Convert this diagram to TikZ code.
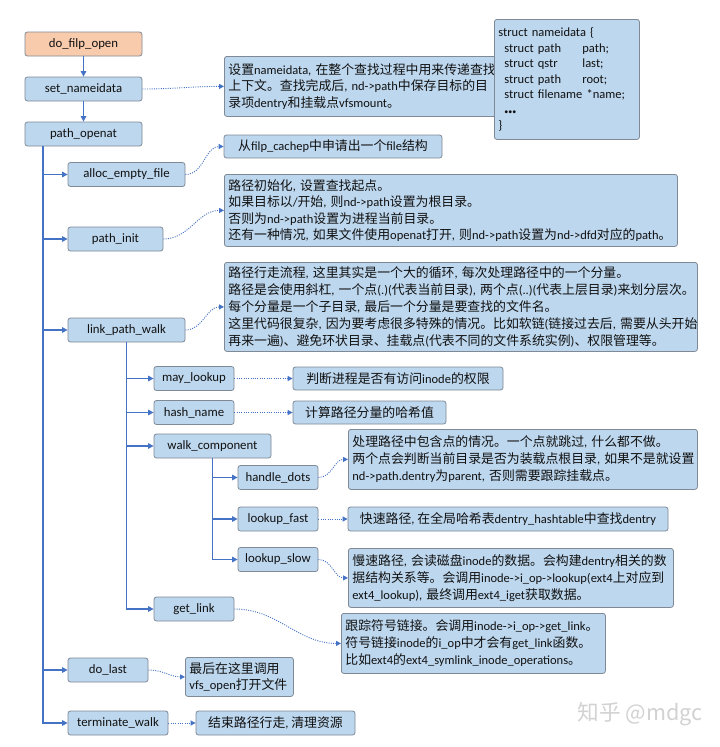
\documentclass[tikz,border=0pt]{standalone}
\usepackage{fontspec}
\setmainfont{Carlito}
\newfontfamily\cjkfont[Scale=1.03]{Noto Sans CJK SC}
\usetikzlibrary{arrows.meta}
\XeTeXinterchartokenstate=1
\newXeTeXintercharclass\CJKcls
\newcount\cjkcnt
\def\setclassrange#1#2#3{\cjkcnt=#1\relax\loop\XeTeXcharclass\cjkcnt=#3\relax\ifnum\cjkcnt<#2\relax\advance\cjkcnt by 1\repeat}
\setclassrange{0}{"2FFF}{0}
\setclassrange{"3000}{"303F}{\CJKcls}
\setclassrange{"4E00}{"9FFF}{\CJKcls}
\setclassrange{"FF00}{"FFEF}{\CJKcls}
\XeTeXinterchartoks 0 \CJKcls = {\begingroup\cjkfont}
\XeTeXinterchartoks 4095 \CJKcls = {\begingroup\cjkfont}
\XeTeXinterchartoks \CJKcls 0 = {\endgroup}
\XeTeXinterchartoks \CJKcls 4095 = {\endgroup}
\definecolor{boxblue}{HTML}{BDD7EE}
\definecolor{orangefill}{HTML}{F8CBAD}
\definecolor{bordercol}{HTML}{7F8A96}
\definecolor{linkblue}{HTML}{4472C4}
\definecolor{textcol}{HTML}{111111}
\definecolor{wmgray}{HTML}{D2D2D2}
\begin{document}
\begin{tikzpicture}[x=1pt,y=-1pt,
  fn/.style={draw=bordercol, fill=boxblue, rounded corners=2.5pt, line width=0.8pt, inner sep=0pt, minimum height=24pt, text=textcol, font=\fontsize{12.8}{15}\selectfont},
  desc/.style={fn, anchor=north west, inner xsep=4pt, inner ysep=2pt, align=left, font=\fontsize{12.5}{17}\selectfont},
  descc/.style={fn, minimum height=23pt, align=center, font=\fontsize{12.5}{15}\selectfont},
  arr/.style={draw=linkblue, line width=1.1pt, -{Triangle[width=5.5pt,length=5.5pt]}},
  dotlink/.style={draw=linkblue, line width=0.9pt, dash pattern=on 1pt off 1.3pt, -{Triangle[width=5pt,length=5pt]}},
]
\useasboundingbox (0,0) rectangle (720,747);
\fill[white] (0,0) rectangle (720,747);

% function nodes
\node[fn, fill=orangefill, minimum width=117pt] (dfo) at (83.5,44) {do\_filp\_open};
\node[fn, minimum width=117pt] (sn) at (83.5,89) {set\_nameidata};
\node[fn, minimum width=117pt] (po) at (83.5,134) {path\_openat};
\node[fn, minimum width=117pt] (aef) at (126.5,174.5) {alloc\_empty\_file};
\node[fn, minimum width=95pt] (pin) at (115.5,239) {path\_init};
\node[fn, minimum width=117pt] (lpw) at (126.5,330) {link\_path\_walk};
\node[fn, minimum width=80pt] (ml) at (194,378.5) {may\_lookup};
\node[fn, minimum width=80pt] (hn) at (194,412.5) {hash\_name};
\node[fn, minimum width=117pt] (wc) at (212.5,446) {walk\_component};
\node[fn, minimum width=80pt] (hd) at (278,477.5) {handle\_dots};
\node[fn, minimum width=80pt] (lf) at (278,519) {lookup\_fast};
\node[fn, minimum width=80pt] (ls) at (278,559.5) {lookup\_slow};
\node[fn, minimum width=80pt] (gl) at (194,609) {get\_link};
\node[fn, minimum width=80pt] (dl) at (108,670) {do\_last};
\node[fn, minimum width=100pt] (tw) at (118,723) {terminate\_walk};

% description nodes
\node[desc, text width=332pt, minimum height=60pt, font=\fontsize{12.5}{16.5}\selectfont] (ndd) at (224,56)
  {设置nameidata,~在整个查找过程中用来传递查找\\上下文。查找完成后,~nd->path中保存目标的目\\录项dentry和挂载点vfsmount。};
\node[desc, text width=137pt, minimum height=120pt, font=\fontsize{12.5}{15.5}\selectfont] (sd) at (494,19)
  {struct nameidata \{\\
   \hspace*{6pt}\makebox[78pt][l]{struct path}path;\\
   \hspace*{6pt}\makebox[78pt][l]{struct qstr}last;\\
   \hspace*{6pt}\makebox[78pt][l]{struct path}root;\\
   \hspace*{6pt}struct filename *name;\\
   \hspace*{6pt}{\fontsize{8}{8}\selectfont\textbullet\textbullet\textbullet}\\
   \}};
\node[descc, minimum width=218pt] (fd) at (333,146.5) {从filp\_cachep中申请出一个file结构};
\node[desc, text width=445pt, minimum height=72pt, font=\fontsize{12.5}{16.5}\selectfont] (pind) at (224,174)
  {路径初始化,~设置查找起点。\\如果目标以/开始,~则nd->path设置为根目录。\\否则为nd->path设置为进程当前目录。\\还有一种情况,~如果文件使用openat打开,~则nd->path设置为nd->dfd对应的path。};
\node[desc, text width=465pt, minimum height=89pt] (lpwd) at (224,262)
  {路径行走流程,~这里其实是一个大的循环,~每次处理路径中的一个分量。\\路径是会使用斜杠,~一个点(.)(代表当前目录),~两个点(..)(代表上层目录)来划分层次。\\每个分量是一个子目录,~最后一个分量是要查找的文件名。\\这里代码很复杂,~因为要考虑很多特殊的情况。比如软链(链接过去后,~需要从头开始\\再来一遍)、避免环状目录、挂载点(代表不同的文件系统实例)、权限管理等。};
\node[descc, minimum width=210pt] (mld) at (398,378.5) {判断进程是否有访问inode的权限};
\node[descc, minimum width=153pt] (hnd) at (369.5,412.5) {计算路径分量的哈希值};
\node[desc, text width=341pt, minimum height=60pt] (hdd) at (348,429)
  {处理路径中包含点的情况。一个点就跳过,~什么都不做。\\两个点会判断当前目录是否为装载点根目录,~如果不是就设置\\nd->path.dentry为parent,~否则需要跟踪挂载点。};
\node[descc, minimum width=320pt, minimum height=24pt] (lfd) at (508,519) {快速路径,~在全局哈希表dentry\_hashtable中查找dentry};
\node[desc, text width=317pt, minimum height=59pt] (lsd) at (348,548)
  {慢速路径,~会读磁盘inode的数据。会构建dentry相关的数\\据结构关系等。会调用inode->i\_op->lookup(ext4上对应到\\ext4\_lookup),~最终调用ext4\_iget获取数据。};
\node[desc, text width=256pt, minimum height=60pt] (gld) at (341,613)
  {跟踪符号链接。会调用inode->i\_op->get\_link。\\符号链接inode的i\_op中才会有get\_link函数。\\比如ext4的ext4\_symlink\_inode\_operations。};
\node[desc, text width=100pt, minimum height=39pt, font=\fontsize{12.5}{16}\selectfont] (dld) at (185,657)
  {最后在这里调用\\vfs\_open打开文件};
\node[descc, minimum width=159pt, minimum height=24pt] (twd) at (275.5,723) {结束路径行走,~清理资源};

% watermark
\node[text=wmgray, inner sep=0pt, font=\cjkfont\fontsize{21}{21}\selectfont] (wm) at (640,714) {知乎 @mdgc};

% solid tree connectors
\coordinate (trA) at (43,0);
\draw[arr] (dfo.south) -- (sn.north);
\draw[arr] (sn.south) -- (po.north);
\draw[arr] (trA |- po.south) |- (tw.west);
\foreach \n in {aef,pin,lpw,dl} \draw[arr] (trA |- \n.west) -- (\n.west);
\draw[arr] (lpw.south) |- (gl.west);
\foreach \n in {ml,hn,wc} \draw[arr] (lpw.south |- \n.west) -- (\n.west);
\draw[arr] (wc.south) |- (ls.west);
\foreach \n in {hd,lf} \draw[arr] (wc.south |- \n.west) -- (\n.west);

% dotted description links
\draw[dotlink] (sn.east) to[out=0,in=180] (ndd.west);
\draw[dotlink] (aef.east) to[out=0,in=180] (fd.west);
\draw[dotlink] (pin.east) to[out=0,in=180] (pind.west);
\draw[dotlink] (lpw.east) to[out=0,in=180] (lpwd.west);
\draw[dotlink] (ml.east) -- (mld.west);
\draw[dotlink] (hn.east) -- (hnd.west);
\draw[dotlink] (hd.east) to[out=0,in=180] (hdd.west);
\draw[dotlink] (lf.east) -- (lfd.west);
\draw[dotlink] (ls.east) to[out=0,in=180] (lsd.west);
\draw[dotlink] (gl.east) to[out=0,in=180] (gld.west);
\draw[dotlink] (dl.east) to[out=0,in=180] (dld.west);
\draw[dotlink] (tw.east) -- (twd.west);
\end{tikzpicture}
\end{document}
